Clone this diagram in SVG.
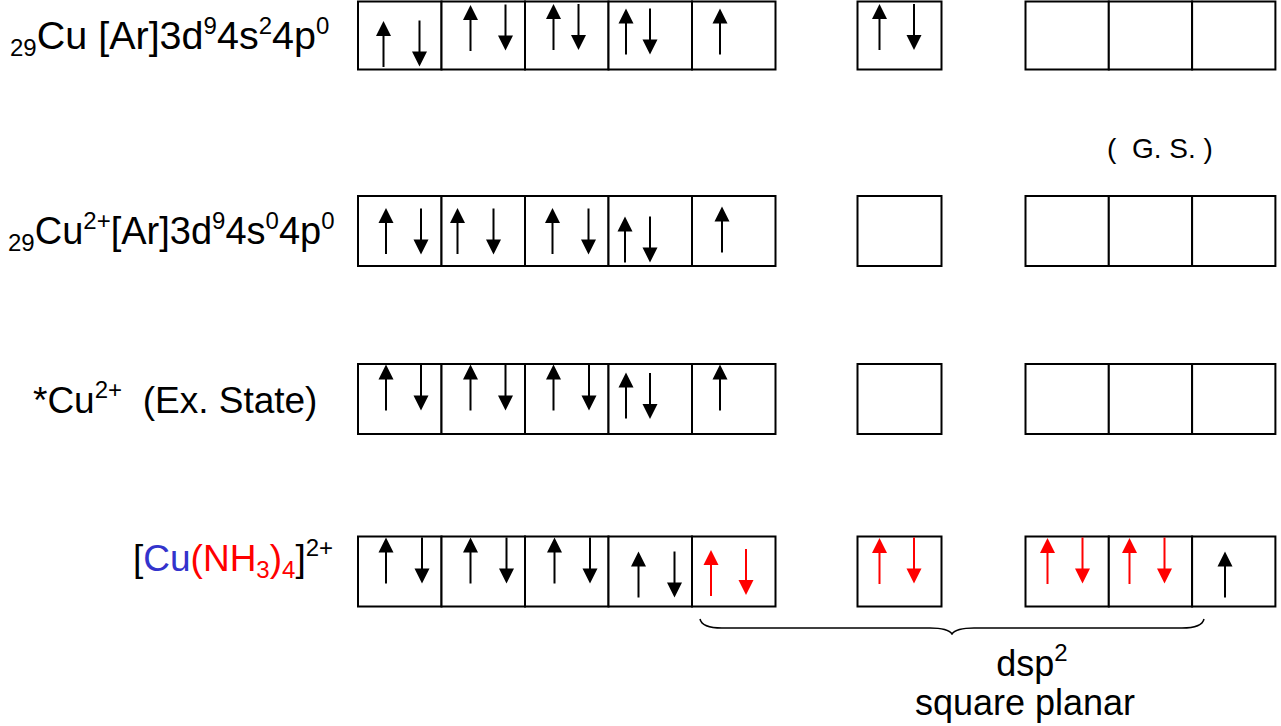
<svg xmlns="http://www.w3.org/2000/svg" xmlns:xlink="http://www.w3.org/1999/xlink" width="1281" height="726" viewBox="0 0 1281 726">
<style>
.box{fill:#fff;stroke:#000;stroke-width:2}
.lbl{font-family:"Liberation Sans",Arial,sans-serif;font-size:38px;fill:#000}
.sm{font-size:24px}
.red{fill:#ff0000}
.blue{fill:#3333cc}
.brace{fill:none;stroke:#000;stroke-width:1.5}
</style>
<defs>
<g id="up"><line x1="0" y1="12" x2="0" y2="46" stroke="#000" stroke-width="2"/><polygon points="0,0 -7.5,15 7.5,15" fill="#000"/></g>
<g id="dn"><line x1="0" y1="0" x2="0" y2="34" stroke="#000" stroke-width="2"/><polygon points="0,46 -7.5,31 7.5,31" fill="#000"/></g>
<g id="upr"><line x1="0" y1="12" x2="0" y2="46" stroke="#ff0000" stroke-width="2"/><polygon points="0,0 -7.5,15 7.5,15" fill="#ff0000"/></g>
<g id="dnr"><line x1="0" y1="0" x2="0" y2="34" stroke="#ff0000" stroke-width="2"/><polygon points="0,46 -7.5,31 7.5,31" fill="#ff0000"/></g>
</defs>

<g id="row1">
<text class="lbl" x="10" y="49" style="font-size:39.5px"><tspan class="sm" dy="7">29</tspan><tspan dy="-7">Cu [Ar]3d</tspan><tspan class="sm" dy="-15">9</tspan><tspan dy="15">4s</tspan><tspan class="sm" dy="-15">2</tspan><tspan dy="15">4p</tspan><tspan class="sm" dy="-15">0</tspan></text>
<rect class="box" x="358" y="1.5" width="83.5" height="68"/>
<rect class="box" x="441.5" y="1.5" width="83.5" height="68"/>
<rect class="box" x="525" y="1.5" width="83.5" height="68"/>
<rect class="box" x="608.5" y="1.5" width="83.5" height="68"/>
<rect class="box" x="692" y="1.5" width="83.5" height="68"/>
<rect class="box" x="857.5" y="1.5" width="84" height="68"/>
<rect class="box" x="1025.5" y="1.5" width="83.3" height="68"/>
<rect class="box" x="1108.8" y="1.5" width="83.3" height="68"/>
<rect class="box" x="1192.1" y="1.5" width="83.3" height="68"/>
<use xlink:href="#up" x="383.5" y="21"/><use xlink:href="#dn" x="419.5" y="20.5"/>
<use xlink:href="#up" x="470.5" y="5"/><use xlink:href="#dn" x="505.5" y="4.5"/>
<use xlink:href="#up" x="553.5" y="4"/><use xlink:href="#dn" x="578.5" y="4"/>
<use xlink:href="#up" x="626" y="8.5"/><use xlink:href="#dn" x="650" y="8.5"/>
<use xlink:href="#up" x="720" y="8.5"/>
<use xlink:href="#up" x="879.5" y="4"/><use xlink:href="#dn" x="914" y="4"/>
</g>

<g id="gs">
<text class="lbl" x="1107" y="158" style="font-size:28px" xml:space="preserve">(  G. S. )</text>
</g>

<g id="row2">
<text class="lbl" x="8" y="244"><tspan class="sm" dy="7">29</tspan><tspan dy="-7">Cu</tspan><tspan class="sm" dy="-15">2+</tspan><tspan dy="15">[Ar]3d</tspan><tspan class="sm" dy="-15">9</tspan><tspan dy="15">4s</tspan><tspan class="sm" dy="-15">0</tspan><tspan dy="15">4p</tspan><tspan class="sm" dy="-15">0</tspan></text>
<rect class="box" x="358" y="196" width="83.5" height="70"/>
<rect class="box" x="441.5" y="196" width="83.5" height="70"/>
<rect class="box" x="525" y="196" width="83.5" height="70"/>
<rect class="box" x="608.5" y="196" width="83.5" height="70"/>
<rect class="box" x="692" y="196" width="83.5" height="70"/>
<rect class="box" x="857.5" y="196" width="84" height="70"/>
<rect class="box" x="1025.5" y="196" width="83.3" height="70"/>
<rect class="box" x="1108.8" y="196" width="83.3" height="70"/>
<rect class="box" x="1192.1" y="196" width="83.3" height="70"/>
<use xlink:href="#up" x="386" y="208"/><use xlink:href="#dn" x="421" y="208.5"/>
<use xlink:href="#up" x="457.5" y="208"/><use xlink:href="#dn" x="493.5" y="208.5"/>
<use xlink:href="#up" x="552.5" y="208"/><use xlink:href="#dn" x="588.5" y="208.5"/>
<use xlink:href="#up" x="625" y="216.5"/><use xlink:href="#dn" x="650" y="216.5"/>
<use xlink:href="#up" x="722" y="206.5"/>
</g>

<g id="row3">
<text class="lbl" x="33" y="413" style="font-size:37px" xml:space="preserve">*Cu<tspan class="sm" dy="-15">2+</tspan><tspan dy="15">  (Ex. State)</tspan></text>
<rect class="box" x="358" y="364" width="83.5" height="70"/>
<rect class="box" x="441.5" y="364" width="83.5" height="70"/>
<rect class="box" x="525" y="364" width="83.5" height="70"/>
<rect class="box" x="608.5" y="364" width="83.5" height="70"/>
<rect class="box" x="692" y="364" width="83.5" height="70"/>
<rect class="box" x="857.5" y="364" width="84" height="70"/>
<rect class="box" x="1025.5" y="364" width="83.3" height="70"/>
<rect class="box" x="1108.8" y="364" width="83.3" height="70"/>
<rect class="box" x="1192.1" y="364" width="83.3" height="70"/>
<use xlink:href="#up" x="386" y="364.5"/><use xlink:href="#dn" x="421" y="364.5"/>
<use xlink:href="#up" x="470.5" y="364.5"/><use xlink:href="#dn" x="505.5" y="364.5"/>
<use xlink:href="#up" x="553.5" y="364.5"/><use xlink:href="#dn" x="589" y="364.5"/>
<use xlink:href="#up" x="626" y="372.5"/><use xlink:href="#dn" x="650" y="373"/>
<use xlink:href="#up" x="720" y="364.5"/>
</g>

<g id="row4">
<text class="lbl" x="133" y="571" style="font-size:37px">[<tspan class="blue">Cu</tspan><tspan class="red">(NH</tspan><tspan class="red sm" dy="7">3</tspan><tspan class="red" dy="-7">)</tspan><tspan class="red sm" dy="7">4</tspan><tspan dy="-7">]</tspan><tspan class="sm" dy="-15">2+</tspan></text>
<rect class="box" x="358" y="536.5" width="83.5" height="70"/>
<rect class="box" x="441.5" y="536.5" width="83.5" height="70"/>
<rect class="box" x="525" y="536.5" width="83.5" height="70"/>
<rect class="box" x="608.5" y="536.5" width="83.5" height="70"/>
<rect class="box" x="692" y="536.5" width="83.5" height="70"/>
<rect class="box" x="857.5" y="536.5" width="84" height="70"/>
<rect class="box" x="1025.5" y="536.5" width="83.3" height="70"/>
<rect class="box" x="1108.8" y="536.5" width="83.3" height="70"/>
<rect class="box" x="1192.1" y="536.5" width="83.3" height="70"/>
<use xlink:href="#up" x="386" y="537.5"/><use xlink:href="#dn" x="422" y="537.5"/>
<use xlink:href="#up" x="470.5" y="537.5"/><use xlink:href="#dn" x="506.5" y="537.5"/>
<use xlink:href="#up" x="554.5" y="537.5"/><use xlink:href="#dn" x="590" y="537.5"/>
<use xlink:href="#up" x="638.5" y="551.5"/><use xlink:href="#dn" x="674.5" y="551.5"/>
<use xlink:href="#upr" x="711" y="550"/><use xlink:href="#dnr" x="746" y="549"/>
<use xlink:href="#upr" x="879.5" y="538"/><use xlink:href="#dnr" x="914" y="537.5"/>
<use xlink:href="#upr" x="1047.5" y="538"/><use xlink:href="#dnr" x="1082.5" y="537.5"/>
<use xlink:href="#upr" x="1129.5" y="538"/><use xlink:href="#dnr" x="1164.5" y="537.5"/>
<use xlink:href="#up" x="1225" y="551.5"/>
</g>

<g id="hybrid">
<path class="brace" d="M700,619 Q702,628 722,628 L930,628 Q948,628 952,634 Q956,628 974,628 L1182,628 Q1202,628 1204,619"/>
<text class="lbl" x="1032" y="676" text-anchor="middle" style="font-size:36px">dsp<tspan class="sm" dy="-15">2</tspan></text>
<text class="lbl" x="1025" y="715" text-anchor="middle" style="font-size:36px">square planar</text>
</g>
</svg>
